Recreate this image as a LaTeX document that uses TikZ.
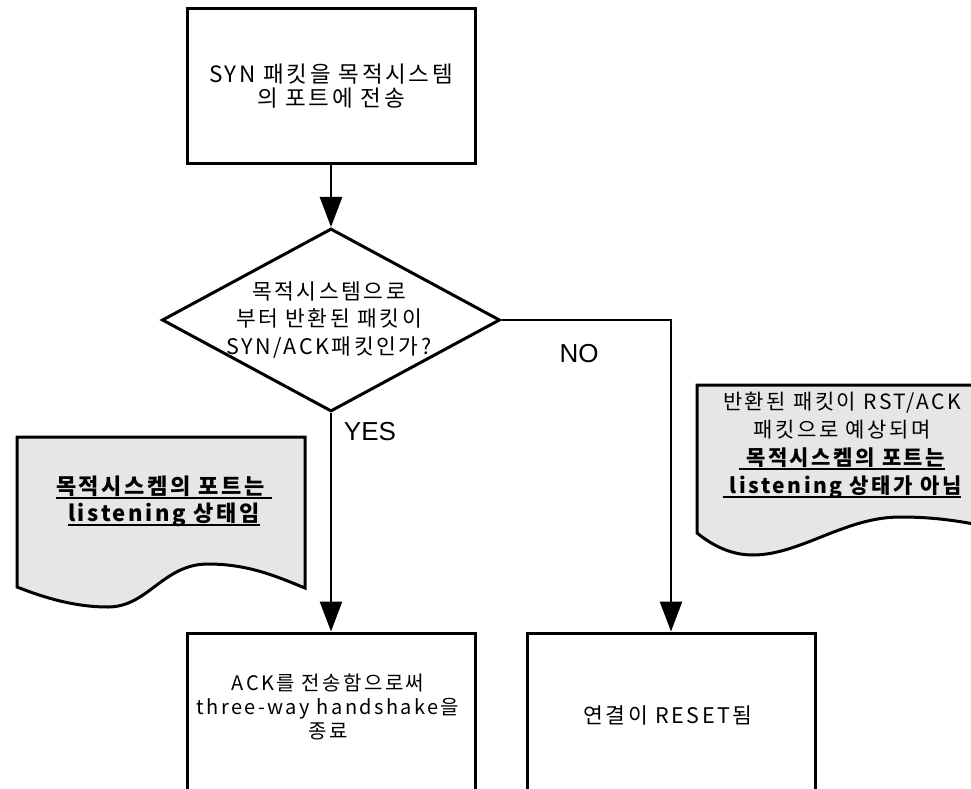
\documentclass[tikz,border=0pt]{standalone}
\usepackage{fontspec}
\setmainfont{Liberation Sans}
\newfontfamily\kr[LetterSpace=12]{Noto Sans CJK KR}
\usetikzlibrary{arrows.meta,shapes.geometric}
\definecolor{docgray}{RGB}{230,230,230}
\newsavebox\myulbox
\newcommand\myul[1]{\sbox\myulbox{#1}\rlap{\rule[-4.5pt]{\wd\myulbox}{1.8pt}}\usebox\myulbox}
\begin{document}
\begin{tikzpicture}[x=1pt,y=-1pt,line join=miter,
  box/.style={draw,line width=3pt,minimum width=288pt,inner sep=0pt,align=center},
  conn/.style={line width=2.6pt,-{Triangle[length=30pt,width=22pt]}},
  docshape/.style={draw,line width=3pt,fill=docgray},
  ktxt/.style={inner sep=0pt,align=center},
  lbl/.style={inner sep=0pt,font=\fontsize{26}{30}\selectfont}]
\useasboundingbox (0,0) rectangle (971,789);
\clip (0,0) rectangle (971,789);

% top box
\node[box,minimum height=154pt,font=\kr\fontsize{22.5}{24}\selectfont] (send) at (331,86)
  {SYN 패킷을 목적시스템\\의 포트에 전송};

% decision
\node[draw,line width=3pt,shape=diamond,minimum width=338pt,minimum height=183pt,inner sep=0pt] (q) at (331,320) {};
\node[ktxt,font=\kr\fontsize{21.5}{27.5}\selectfont] (qtxt) at (329,320)
  {목적시스템으로\\부터 반환된 패킷이\\SYN/ACK패킷인가?};

% bottom boxes
\node[box,minimum height=170pt] (ack) at (331,718) {};
\node[ktxt,font=\kr\fontsize{20}{24}\selectfont] (acktxt) at (328,707)
  {ACK를 전송함으로써\\three-way handshake을\\종료};
\node[box,minimum height=170pt] (rst) at (671,718) {};
\node[ktxt,font=\kr\fontsize{21.5}{24}\selectfont] (rsttxt) at (668,715) {연결이 RESET됨};

% left document
\draw[docshape] (17,437) -- (305,437) -- (305,588)
  .. controls (280,578) and (250,564) .. (208,564)
  .. controls (163,564) and (148,607) .. (108,607)
  .. controls (75,607) and (45,598) .. (17,587) -- cycle;
\node[ktxt,font=\kr\bfseries\fontsize{22}{27}\selectfont] (ldoc) at (164,501)
  {\myul{목적시스켐의 포트는 }\\\myul{listening 상태임}};

% right document
\draw[docshape] (697,385) -- (995,385) -- (995,528)
  .. controls (960,521) and (935,517) .. (900,517)
  .. controls (845,517) and (800,555) .. (753,555)
  .. controls (730,555) and (712,545) .. (697,533) -- cycle;
\node[ktxt,font=\kr\fontsize{21}{28}\selectfont] (rdoc) at (842,445)
  {반환된 패킷이 RST/ACK\\패킷으로 예상되며\\{\bfseries\myul{ 목적시스켐의 포트는}}\\{\bfseries\myul{ listening 상태가 아님}}};

% connectors
\draw[conn] (send) -- (q);
\draw[conn] (q) -- (ack);
\draw[conn] (q.east) -| (rst);

% labels
\node[lbl] (no) at (579,354) {NO};
\node[lbl] (yes) at (370,432) {YES};
\end{tikzpicture}
\end{document}
